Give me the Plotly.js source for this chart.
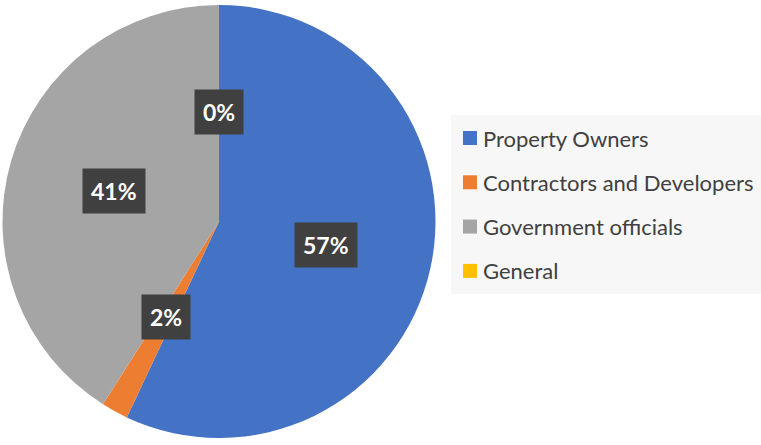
<!DOCTYPE html>
<html>
<head>
<meta charset="utf-8">
<script src="https://cdn.plot.ly/plotly-3.0.1.min.js"></script>
<style>html,body{margin:0;padding:0;background:#fff;}#chart{width:761px;height:445px;}</style>
</head>
<body>
<div id="chart"></div>
<script>
// Data
const categories = ["Property Owners", "Contractors and Developers", "Government officials", "General"];
const shares = [57, 2, 41, 0];
const colors = ["#4472C4", "#ED7D31", "#A5A5A5", "#FFC000"];

const W = 761, H = 445;
// pie domain in pixels
const dom = {x0: 2, x1: 436, y0: 5, y1: 438};

const trace = {
  type: "pie",
  labels: categories,
  values: shares,
  sort: false,
  direction: "clockwise",
  rotation: 0,
  marker: {colors: colors, line: {width: 0}},
  textinfo: "none",
  hoverinfo: "none",
  showlegend: false,
  domain: {x: [dom.x0 / W, dom.x1 / W], y: [1 - dom.y1 / H, 1 - dom.y0 / H]}
};

// data labels placed at the middle angle of each slice
const total = shares.reduce((a, b) => a + b, 0);
const cx = (dom.x0 + dom.x1) / 2, cy = (dom.y0 + dom.y1) / 2;
const r = Math.min(dom.x1 - dom.x0, dom.y1 - dom.y0) / 2;
const annotations = [];
let cum = 0;
shares.forEach((v, i) => {
  const mid = (cum + v / 2) / total * 2 * Math.PI;
  cum += v;
  const px = cx + 0.505 * r * Math.sin(mid);
  const py = cy - 0.505 * r * Math.cos(mid);
  annotations.push({
    xref: "paper", yref: "paper", x: px / W, y: 1 - py / H,
    xanchor: "center", yanchor: "middle", showarrow: false,
    text: "<b>" + Math.round(v / total * 100) + "%</b>",
    font: {family: "Lato, 'Open Sans', sans-serif", size: 23, color: "#ffffff"},
    bgcolor: "#404040", borderpad: 8
  });
});

// legend
const leg = {x0: 451, x1: 761, y0: 115, y1: 294, top: 138, step: 44.3, sq: 14, sqx: 463, tx: 481};
const shapes = [{
  type: "rect", xref: "paper", yref: "paper",
  x0: leg.x0 / W, x1: leg.x1 / W, y0: 1 - leg.y1 / H, y1: 1 - leg.y0 / H,
  fillcolor: "#f7f7f7", line: {width: 0}, layer: "below"
}];
categories.forEach((c, i) => {
  const yc = leg.top + i * leg.step;
  shapes.push({
    type: "rect", xref: "paper", yref: "paper",
    x0: leg.sqx / W, x1: (leg.sqx + leg.sq) / W,
    y0: 1 - (yc + leg.sq / 2) / H, y1: 1 - (yc - leg.sq / 2) / H,
    fillcolor: colors[i], line: {width: 0}
  });
  annotations.push({
    xref: "paper", yref: "paper", x: leg.tx / W, y: 1 - yc / H,
    xanchor: "left", yanchor: "middle", showarrow: false,
    text: c, font: {family: "Lato, 'Open Sans', sans-serif", size: 22, color: "#404040"}
  });
});

const layout = {
  width: W, height: H,
  margin: {l: 0, r: 0, t: 0, b: 0},
  paper_bgcolor: "#ffffff",
  showlegend: false,
  shapes: shapes,
  annotations: annotations
};

Plotly.newPlot("chart", [trace], layout, {displayModeBar: false, staticPlot: true});
</script>
</body>
</html>
